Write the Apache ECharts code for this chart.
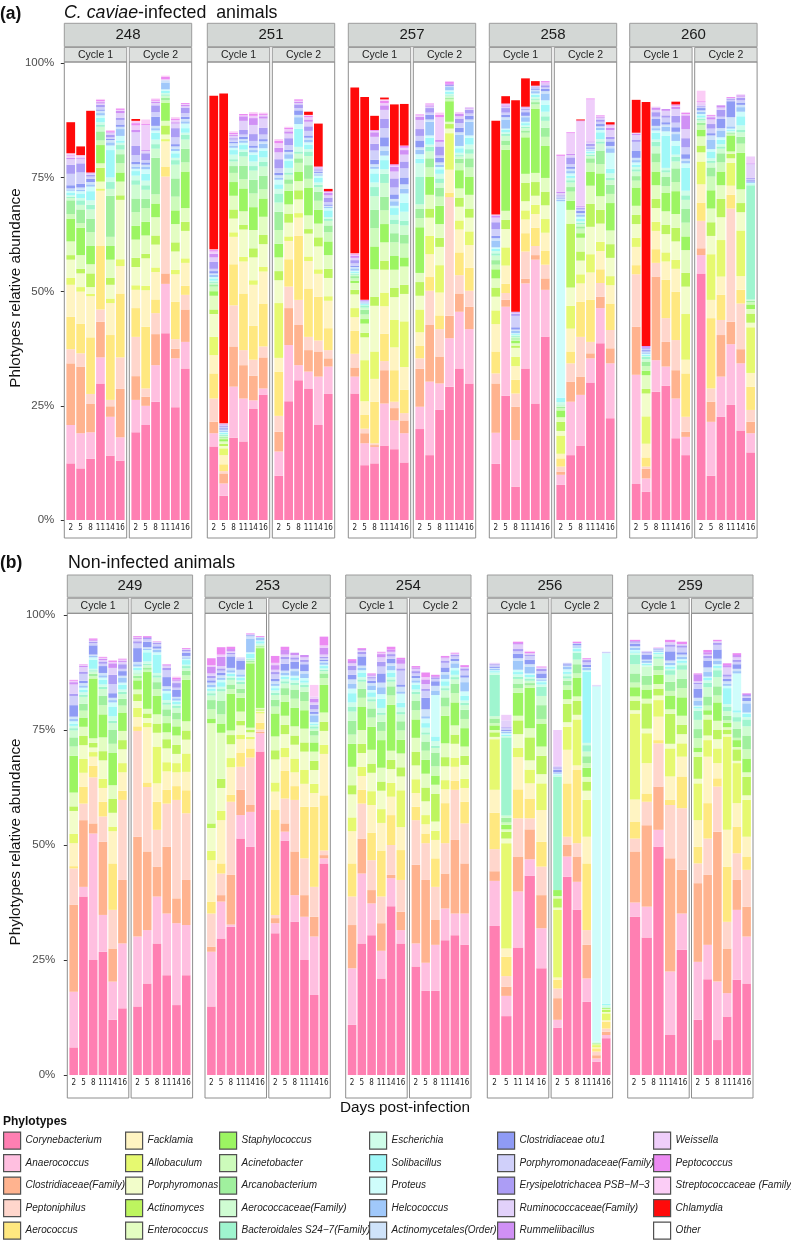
<!DOCTYPE html>
<html><head><meta charset="utf-8">
<script src="https://cdn.jsdelivr.net/npm/echarts@6/dist/echarts.min.js"></script>
<style>html,body{margin:0;padding:0;background:#fff}#c{width:791px;height:1241px}</style>
</head><body><div id="c"></div>
<script>
const FONT = '"Liberation Sans", Arial, sans-serif';
const TICKFONT = '"DejaVu Sans Condensed", "Liberation Sans Narrow", "Liberation Sans", sans-serif';
const phylotypes = ['Corynebacterium','Anaerococcus','Clostridiaceae(Family)','Peptoniphilus','Aerococcus',
 'Facklamia','Allobaculum','Porphyromonas','Actinomyces','Enterococcus',
 'Staphylococcus','Acinetobacter','Arcanobacterium','Aerococcaceae(Family)','Bacteroidales S24\u22127(Family)',
 'Escherichia','Solibacillus','Proteus','Helcococcus','Actinomycetales(Order)',
 'Clostridiaceae otu1','Porphyromonadaceae(Family)','Erysipelotrichacea PSB\u2212M\u22123','Ruminococcaceae(Family)','Rummeliibacillus',
 'Weissella','Peptococcus','Streptococcaceae (Family)','Chlamydia','Other'];
const colors = ['#ff7fb2','#ffbfe0','#ffb38f','#ffd6cc','#ffe880',
 '#fff4c2','#e6f970','#f2fdca','#bdf55f','#e3fdc2',
 '#9cf562','#cdfbbb','#a0f09e','#cffcd2','#9ff5cf',
 '#cffde9','#9ff8f8','#cffdfb','#a0c8fa','#cfe3fa',
 '#8f9bf5','#d0d0fa','#ac9df5','#e2d1fa','#d090f5',
 '#efcefa','#ec8af2','#fbcdf6','#ff0a0a','#ffffff'];
const days = ['2','5','8','11','14','16'];
const days256c1 = ['2','5','11','14','16'];
const bars259c1 = ['2','5','8','11','14'];
const infectedAnimals = ['248','251','257','258','260'];
const controlAnimals = ['249','253','254','256','259'];

// rows = days; columns = phylotypes (Corynebacterium ... Chlamydia), % relative abundance
const a248c1 = [
[12.4,8.4,13.5,3.1,7.1, 7,1.5,4,1,3, 5,1,3,0.5,0.3, 0.3,0.5,0.5,0.3,0.2, 0.7,2.5,2,1.2,0.3, 0.5,0.2,0.3,6.8],
[11.3,7.7,14.6,2.9,6.5, 7,1,3,1,3, 6,1,3,1,1, 0.5,1,0.5,0.3,0.5, 0.8,2.5,2,1,0.2, 0.3,0,0.3,1.9],
[13.4,5.8,6.2,2.2,12.4, 9,0.5,1.5,3,2, 4,3,3,2,1, 1,2,1,0.5,0.5, 0.7,0.5,0.4,0.3,0.2, 0,0,0,13.5],
[29.9,5.7,7.8,2.7,14, 12,0.5,1.5,3,1, 4,1,2,1,0.5, 0.5,1,0.5,0.5,0.5, 0.3,0.5,0.5,0.3,0.3, 0.2,0.3,0.2,0],
[14.1,8.5,2.3,1.4,14.2, 7,1,3,1.5,4, 3,2,9,1.5,1.5, 1,6,1,0.7,0.5, 0.3,0.3,0.6,0.3,0.2, 0.1,0.2,0.2,0],
[13,5.1,10.6,6.9,14, 6,1.5,13,1,3, 2,2,2,1,1, 0.5,0.5,1,1.5,0.5, 0.5,1,0.5,1,0.5, 0.2,0.3,0,0]];
const a248c2 = [
[19.2,7.1,5.2,8.6,6.3, 4,1,4,2,4, 3,3,3,3,1, 1,1,0.5,0.5,0.5, 0.5,1.5,2,3,0.5, 1,0.5,0.5,0.4],
[20.8,4.2,2,1.8,13.5, 8,1,6,1,4, 3,3,2,2,1, 1,1.5,1,0.5,0.5, 0.5,0.5,1.5,0.5,0.2, 5.5,0.2,1,0],
[25.9,8,6.8,4.6,3, 6,1,5,2,4, 3,2,8,2,1, 1,1.5,0.5,0.5,0.5, 2,1,1.5,0.5,0.3, 0.2,0.3,0.2,0],
[40.9,10.8,2.3,21.2,2.2, 5.5,0.5,1,2,1, 4,0.5,0.5,0.5,0.3, 0.3,0.5,0.3,1.5,0.5, 0,0,0,0,0, 0.2,0.5,0.3,0],
[24.7,10.7,2.1,2.1,8.2, 6,1,4,2,4, 3,3,4,3,1, 0.5,1,0.5,0.5,0.5, 0.5,1.5,2,1,0.3, 0.5,0.3,0.3,0],
[33.2,5.8,7.1,3.2,2, 5,1,6,2,3, 8,2,3,2,1, 0.5,1,1,0.5,0.5, 0.5,0.8,1.2,0.3,0.3, 0.2,0.2,0,0]];
const a251c1 = [
[16.1,2.9,2.5,5.1,5.5, 4,4,5,1,3, 1,1,0.5,0.3,0.2, 0.3,0.5,0.3,0.5,0.3, 0.5,0.5,1.5,1,0.8, 0.5,0.3,0.2,33.6],
[5.3,2.7,2.2,0.5,1.5, 2,1.5,0.5,0.5,0.5, 0.5,0.3,0.2,0.2,0.2, 0.2,0.3,0.2,0.3,0.2, 0.3,0.3,0.3,0.2,0.2, 0.1,0,0,72.2],
[18,11.2,8.8,9,9, 6,1,3,2,3, 3,2,1.5,1,0.5, 1,1,0.5,0.5,0.5, 0.3,0.5,0.3,0.5,0.2, 0.2,0.3,0.3,0],
[17.2,9.4,7.3,3.3,12.4, 7,1,6,1,3, 5,2,3,2,1, 0.5,1,0.5,0.5,0.3, 0.5,0.5,1,2,1, 0.2,0.3,0,0],
[24.3,1.9,5.4,3.5,7.4, 9,1,5,2,4, 5,3,3,2,1, 1,1.5,0.5,0.5,0.5, 0.5,1,1.5,2,1.5, 0.5,0.5,0.3,0],
[27.4,1.4,6.8,2.4,9.4, 7,1,5,2,4, 4,2,3,2,1, 1,1.5,0.5,1,0.5, 0.5,1,1.5,2,0.5, 0.3,0.3,0.2,0]];
const a251c2 = [
[9.7,5.3,4.3,3.5,9.7, 3,12,5,2,3, 3,3,4,2,2, 1,1,1,0.5,0.5, 0.5,1,2,1.5,1, 1,0.5,0.4,0],
[26,12.3,8.1,4.7,6, 4,1,3,2,2, 3,1.5,1,1,0.5, 1,1.5,0.5,1,0.5, 0.5,1,1.5,1,0.5, 0.5,0.3,0.2,0],
[30.6,3.3,8.8,5.5,14, 4,1,3,2,2, 2,2,1,1,0.5, 1,4,1,1.5,0.5, 1,0.5,0.8,0.3,0.3, 0.2,0.3,0,0],
[28.8,3.7,4.7,2.9,10.6, 6,1,5,1,3, 6,2,3,2,1, 0.5,1,0.5,0.5,0.5, 0.5,1,1,1,0.5, 0.5,0.3,0.2,0.7],
[20.8,10.6,5.5,2.4,9.6, 5,1,5,2,3, 3,2,2,1,0.5, 0.5,1,0.5,0.3,0.3, 0.2,0.3,0.3,0.2,0.2, 0.1,0.1,0,9.4],
[27.6,6,1.8,1.8,4.8, 6,1,4,2,3, 3,2,1.5,1,0.5, 0.3,1.5,0.5,0.3,0.2, 0.3,0.5,1,0.5,0.5, 0.2,0.2,0,0.5]];
const a257c1 = [
[27.7,3.7,2,3,5, 3,2,3,1,1.5, 0.5,0.5,0.5,0.3,0.2, 0.2,0.3,0.2,0.5,0.3, 0.3,0.5,0.7,0.5,0.5, 0.2,0.2,0.1,36.3],
[12,4.8,2.2,1,3, 3,9,5,1,2, 1,1,1,0.5,0.5, 0.1,0.2,0.1,0.2,0.1, 0.1,0.1,0.1,0,0.2, 0,0,0,44.4],
[12.4,3.6,0.4,0.4,9.1, 5,6,10,2,6, 5,4,4,3,2, 1,2,1,0.5,0.5, 1,2,1.5,1.5,1, 0.3,0.2,0,3.1],
[16.3,9.2,7.3,2,6, 6,3,5,2,4, 4,3,3,3,2, 1,2,1,1,1, 2,2,2,2,1, 0.5,0.5,0.3,0.4],
[15.5,6.3,2.7,1.4,6.9, 5,6,5,2,4, 3,3,2,2,1, 1,1.5,0.5,1,0.5, 1,1.5,2,1.5,1, 0.3,0.3,0,13.1],
[12.6,6.4,2.8,1.6,5.1, 5,10,6,2,4, 2,3,2,2,1, 2,2,2,1,1, 1.5,2,1.5,1.5,1, 0.5,0.5,0,9.1]];
const a257c2 = [
[19.9,4.9,8.3,2.3,2.7, 3,5,3,3,2, 10,2,2,1,6, 3,1,1,1,0.5, 1.5,1,1.5,2,0.7, 0.3,0.2,0,0],
[14.2,16.1,12.4,7.5,3, 5,4,4,2,3, 4,2,2,1.5,1, 0.5,1.5,0.5,3,0.5, 1,0.5,1,0.3,0.3, 0.2,0.2,0,0],
[24.1,5.8,5.9,6,3, 5,6,4,2,3, 4,2,2,1,1, 1,1,0.5,0.5,0.5, 1,0.5,2,1,0.4, 5,0.5,0.5,0],
[29.2,10.6,4.9,26,1, 5,8,1,1,0.5, 4.5,0.5,0.3,0.3,0.2, 0.3,0.5,0.3,0.7,0.2, 0,0,0.3,0,0.2, 0,0.5,0,0],
[33.2,12.4,4,4,5, 5,2,3,2,2, 4,1.5,1,0.5,0.3, 0.5,1,0.5,2.5,0.5, 1,1,1,0.5,0.5, 0.2,0.1,0,0],
[29.9,11.9,4.9,3.5,5, 5,3,3,2,3, 4,2,2,1,1, 1,1.5,0.5,3,0.5, 0.8,0.5,0.8,0.3,0.2, 0,0,0,0]];
const a258c1 = [
[12.3,6.8,10.8,2.2,4.8, 6,3,3,2,2, 2,1,1,1,0.5, 0.5,0.5,0.3,1.5,0.5, 0.5,1.5,1.5,1,0.5, 0.2,0,0,20.5],
[27.2,19.5,1.5,1.5,2, 4,4,4,2,2, 13.4,1,1,1,0.5, 0.3,0.5,0.3,2,0.5, 0.5,0.5,1,0.3,0.3, 0.2,0.2,0,1.6],
[7.3,10.2,7.3,2.9,3, 3,2,2,0.5,0.5, 0.5,0.3,0.3,0.3,0.2, 0.2,0.2,0.2,0.5,0.3, 0.5,2.5,0.4,0.3,0.2, 0,0,0,46.3],
[33.2,18.6,1,6,4, 3,2,2,4,2, 8,1,0.5,0.5,0.3, 0.3,0.5,0.3,1,0.3, 0.8,0.5,0.3,0.2,0.2, 0,0,0,6.2],
[25.5,31.5,1,2,4, 3,2,2,3,2, 14,1,0.5,0.5,0.3, 0.3,0.5,0.3,0.5,0.3, 0.3,0.2,0.2,0.1,0.1, 0,0,0,1],
[40.1,10.3,2.5,3,3, 4,3,3,3,3, 7,2,2,1.5,1, 1,1.5,1,1.5,0.5, 0.5,0.3,0.5,0.2,0.2, 0.2,0.3,0,0]];
const a258c2 = [
[7.7,2.2,0.7,1.1,1.8, 1,4,1,2,1, 1.5,0.5,0.3,0.3,0.2, 0.5,1,43,0.3,0.3, 0.2,0.3,0.2,0.5,0.3, 7.8,0.2,0.2,0],
[14.2,11.7,4.4,4,2.6, 5,5,4,14,3, 2,2,1,1,0.5, 0.5,0.5,0.5,0.5,0.5, 0.5,0.5,1.5,0.5,0.3, 4.5,0.2,0,0],
[16.3,11.1,4,8.7,7.7, 4,2,3,2,3, 1,1,0.5,0.5,0.3, 0.3,0.5,0.5,0.5,0.3, 0.5,0.3,0.3,0.3,0.2, 18.5,0.2,0,0.2],
[30.1,5.3,1.1,2.5,9.2, 6,4,6,5,4, 3,2,1,0.5,0.3, 0.3,0.3,0.3,0.2,0.2, 0.3,0.3,0.5,0.3,0.2, 9.2,0.2,0,0],
[38.7,7.7,2.5,3,3, 4,2,4,3,3, 5,2,3,1.5,0.5, 0.5,1.5,0.5,0.5,0.3, 0.5,0.5,0.5,0.3,0.2, 0.2,0.2,0,0],
[22.3,12,3.3,4,5.8, 4,2,4,3,3, 6,2,2,1,0.5, 1,1,3.5,1,0.5, 1,0.5,0.5,1.5,0.5, 0.5,0.2,0,0.5]];
const a260c1 = [
[7.9,23.9,10.5,11.5,2, 4,2,3,2,2, 4,1.5,1,1,0.5, 0.5,0.5,0.5,0.5,0.5, 1.5,2,0.5,1,0.3, 0.2,0,0,7.2],
[6.2,2.9,2.1,0.5,2, 3,6,5,1,3, 1,1,1,0.5,0.5, 0.2,0.3,0.2,0.3,0.2, 0.3,0.3,0.2,0,0.4, 0,0,0,53.4],
[28.1,6.9,18.3,3,3, 4,2,3,2,3, 3,2,2,1.5,1, 0.5,1.5,0.5,0.5,0.5, 1.5,0.5,1,0.5,0.5, 0.2,0,0,0],
[29.4,4.2,5.4,5.2,8.4, 4,2,4,2,3, 4,1.5,2,1,0.5, 0.5,7,1,1,0.5, 0.5,1,0.5,1,0.4, 0,0,0,0],
[17.9,8.7,6.2,6.6,10.6, 5,2,4,3,3, 5,2,3,1.5,1, 0.5,2,1,1.5,0.5, 1,1,1.5,1.5,0.5, 0.2,0.3,0,0.6],
[14.2,4,1.1,3.3,9.5, 3,10,6,3,5, 3,3,3,2,1, 1,5,1,0.5,0.5, 1,1.5,2,2,3, 0.3,0.3,0,0]];
const a260c2 = [
[54,4,1.5,6,4, 4,5,2,1.5,2, 1.5,1,0.5,0.5,0.3, 0.3,0.5,0.3,0.5,0.3, 0.5,0.3,0.2,0.2,0.1, 0.5,0.2,2.3,0],
[9.7,11.8,4.4,2.9,15.4, 4,10,4,3,3, 4,3,2,1,0.5, 0.5,1.5,0.5,2,1, 0.5,1,1,1,0.5, 0.3,0.2,0,0],
[22.6,8.8,9.1,3.3,5.5, 4,8,5,4,3, 3,2,2,1,0.5, 0.5,1,0.5,1.5,0.5, 2,0.5,1.5,0.5,0.5, 0,0,0,0],
[25.2,13.3,4.9,24.8,3, 2,5,1,1,0.5, 3.5,0.3,0.2,0.2,0.1, 0.2,0.3,0.2,0.5,2, 3.5,0.3,0.3,0,0, 0.1,0.2,0,0],
[19.6,14.7,3.1,10,3, 3,10,4,2,3, 8,2,1.5,1,0.5, 1,2,1,1,0.5, 0.5,0.5,0.5,0.3,0.3, 0.2,0,0,0],
[14.8,4.2,2.5,2.6,5.1, 3,10,1,2,1, 1,0.5,0.3,0.3,25, 0.2,0.2,0.1,0.2,0.1, 0.3,0.3,0.2,3,0.2, 1.5,0,0,0]];

const b249c1 = [
[6,12.1,18.9,7.9,0.5, 5,2,5,1,3, 8,2,2,1.5,0.5, 0.5,0.5,0.5,0.5,0.5, 2.5,2,0.5,2,0.5, 0.3,0.2,0,0],
[38.8,2.1,14.5,3.6,3.7, 3,3,3,2,2, 2,1.5,1.5,1.5,0.5, 0.5,0.5,0.5,0.5,0.5, 0.5,1.5,0.5,1,0.3, 0.2,0.1,0,0],
[25,27.5,2.2,10,2.5, 2,1,1,1,1, 13,0.5,0.5,0.5,0.3, 0.3,2,0.5,0.3,0.3, 2,0.5,0.3,0.2,0.2, 0,0.3,0,0],
[26.8,8,15.9,5.5,3.2, 3,2,4,2,3, 5,2,2,1.5,0.5, 0.5,1,0.5,0.5,0.5, 1.5,0.5,0.5,0.3,0.3, 0.2,0.2,0,0],
[12,8.3,7.2,8.4,10.1, 7,1,3,3,3, 7,2,3,1.5,0.5, 1,2,1,0.5,0.5, 1,2,2,1.5,1, 0.3,0.3,0,0],
[14.5,14.1,13.8,17.4,2, 4,2,3,2,2, 4,1.5,1.5,1,0.5, 0.5,1,0.5,1,0.5, 1,0.5,1,0.5,0.3, 0.2,0.2,0,0]];
const b249c2 = [
[14.9,15.2,21.7,23,1, 2,2,1.5,1.5,1, 2,0.5,0.5,0.5,0.2, 0.5,0.5,0.3,0.5,0.5, 3,1,0.5,0.5,0.3, 0.1,0.2,0,0],
[19.9,11.6,17.1,14,1, 12,1,1,1,1, 8,0.5,0.5,0.5,0.3, 0.5,2,0.5,0.3,0.3, 1.2,0.5,0.3,0,0.2, 0,0.2,0,0],
[28.6,10.2,6.5,8,6.1, 4,8,3,2,2, 4,1.5,1.5,1,0.5, 0.5,4,0.5,0.5,0.3, 0.5,0.5,0.3,0.2,0, 0,0.1,0,0],
[21.7,13.4,14.5,9.4,3, 4,2,3,2,1.5, 2,1.5,1.5,1,0.5, 0.5,1.5,0.5,0.5,0.5, 2,1.5,0.5,0.5,0.2, 0,0.1,0,0],
[15.2,17.8,5.4,21.4,3, 3,2,2,2,2, 2,1.5,1.5,1,0.5, 0.3,0.5,0.3,0.5,0.3, 1.5,0.5,1,0.5,0.3, 0,0.3,0.3,0],
[21.7,10.9,9.8,14.5,5, 4,4,3,2,2, 9,1,1,0.5,0.5, 0.3,1,0.3,0.3,0.3, 0.7,0.3,0.3,0.2,0, 0,0.2,0,0]];
const b253c1 = [
[14.9,11.9,1.1,7.2,2.6, 9,2,5,1,21.8, 1,2,2,1,0.5, 0.5,0.5,0.3,0.5,0.5, 0.5,0.5,0.5,0.5,1.5, 0.3,1.5,0,0],
[29.7,8,1.4,4.7,2.2, 9.4,2,5,2,10, 2,2,3,2,0.5, 0.5,1,0.5,0.5,0.5, 0.5,0.5,0.5,0.5,2, 0.5,1.6,0,0],
[32.2,0.5,10.8,15.9,1.5, 6,2,3,2,1, 8,1,1,1,0.5, 0.3,0.5,0.3,0.5,0.5, 2.5,0.5,0.3,0.3,0.5, 0,0.5,0,0],
[51.4,5.1,5.5,5,3, 3,1,2,1,2, 3,1,1,1,0.5, 0.3,0.5,0.3,0.5,1, 2,0.5,0,0.2,0, 0,0,0,0],
[49.6,7.6,1.5,10.3,2, 2,0.5,1,0.5,0.5, 14,0.3,0.2,0.2,0.2, 0.2,1,0.3,3,0.5, 0.2,0.2,0,0,0, 0,0.2,0,0],
[70.3,4,0.3,0.5,1.5, 2,0.3,0.3,0.3,0.3, 13,0.3,0.2,0.2,0.1, 0.2,0.5,0.2,0.5,0.2, 0,0,0,0,0, 0,0.2,0,0]];
const b253c2 = [
[30.8,2.2,1.1,0.7,22.8, 4,2,5,2,3, 5,1.5,1.5,1,0.5, 0.5,0.5,0.5,0.5,0.5, 0.5,1,0.5,0.5,1, 0.5,1.5,0,0],
[50.9,2,1.8,5.4,6, 3,2,3,2,2, 3,1.5,1.5,1,0.5, 0.5,0.5,0.3,0.5,0.5, 1.5,1,0.5,0.5,1, 0,0.7,0,0],
[33.3,5.8,9.5,11.2,3, 3,3,3,2,2, 4,2,2,1,0.5, 0.5,0.5,0.5,1,0.5, 1.5,0.5,0.5,0.5,0.5, 0,0,0,0],
[25,9.4,4.7,8,11.2, 5,3,4,2,3, 4,2,2,1,0.5, 0.5,0.5,0.5,1,0.5, 1.5,0.5,0.5,0.5,0.5, 0,0,0,0],
[17.4,12.7,4.3,6.5,17.4, 3,2,3,2,2, 2,1.5,1,0.5,0.5, 0.3,0.3,0.3,1.5,0.3, 0.5,0.5,1,0.5,0.8, 0.5,0,2.5,0],
[46,1.1,0.7,1,12, 9,2,3,2,2, 6,1.5,1,0.5,0.3, 0.3,0.5,0.3,0.5,0.3, 0.3,0.3,0.3,0.5,1.5, 0.5,1.9,0,0]];
const b254c1 = [
[10.9,12.3,9.4,6.2,7.2, 7,3,5,2,4, 5,2,3,2,1, 1,2,1,1,1, 1,1,1,0.5,0.5, 0,0.4,0,0],
[28.6,15.2,7.6,7.6,3, 3,2,3,2,3, 5,2,2,1.5,0.5, 0.5,1,0.5,0.5,0.5, 2,0.5,0.5,0.3,0.3, 0,0.2,0,0],
[30.4,6.9,2.9,6.5,6, 6,3,4,2,3, 5,2,2,1.5,0.5, 0.5,1,0.5,1,0.5, 0.5,0.5,0.3,0.3,0.3, 0,0.2,0,0],
[21,6,6,5.8,10, 6,3,4,2,3, 6,2,2,1.5,0.5, 1,2,1,1.5,1, 2,1.5,1,1,0.7, 0.3,0.2,0,0],
[36.7,6.1,0.7,6.5,6.5, 4,3,3,2,2, 10,2,2,1,0.5, 0.5,1,0.5,1,0.5, 1,0.5,0.5,0.5,0.5, 0,0.6,0,0],
[28.6,2.9,4,6.9,6.5, 5,8,3,2,3, 3,2,2,1.5,0.5, 1,1,2,0.5,1, 0.5,3,0.5,1,1, 0,0.3,0,0]];
const b254c2 = [
[23.6,5,17.1,9.7,2.9, 3,3,3,3,3, 4,2,2,1.5,0.5, 0.5,1,0.5,0.5,0.5, 0.5,0.5,0.5,0.5,0.3, 0,0.3,0,0],
[18.3,6.1,18,8,2.1, 2,2,3,3,3, 3,2,2,1.5,0.5, 1,1,1,0.5,1.5, 2.5,1.5,0.5,1,1, 0.5,1,0,0],
[18.3,10,5.4,7.2,6.2, 4,2,2,6,2, 2,2,3,1,0.5, 1,1,9,1,1, 1,0.5,0.3,0,0.3, 0,0.3,0,0],
[29.3,6.9,7.6,6.6,8.7, 3,2,3,2,3, 6,2,2,1.5,0.5, 0.5,1,0.5,1,0.5, 1,1,0.5,0.5,0.2, 0,0.3,0,0],
[30.4,4.7,16,10.9,2, 3,2,3,2,2, 5,2,2,1,0.5, 0.5,1,0.5,1,0.5, 0.5,0.5,0.3,0.3,0, 0,0.2,0,0],
[28.3,6.8,10.9,8.7,4.7, 3,2,3,2,2, 4,2,2,1,0.5, 0.5,1,1,2,1, 0.5,1,0.5,0.3,0, 0,0.4,0,0]];
const b256c1 = [
[32.4,9.8,2.1,4.8,7.9, 5,11,0.5,1,0.5, 1,0.5,1,0.5,9, 0.5,0.3,0.2,0.3,0.2, 0.3,0.3,0.2,0.2,0, 0.1,0,0,0],
[12.8,4.4,2,2.3,4.2, 1.8,22.9,1,1.5,0.5, 1,0.5,1,0.5,17, 0.3,0.3,0.3,0.3,0.2, 0.3,0.3,0.2,1.5,0, 1.2,0,0,0],
[27.7,12.2,7.6,8.3,6.3, 7,2,3,3,1, 5,1,1,1,0.5, 0.5,0.5,0.5,2,0.5, 1,0.5,0.5,1,0.3, 0,0.3,0,0],
[43.3,3.6,6.5,2.4,4.3, 3.3,3,2,5,2, 8.8,0.5,0.5,0.5,0.5, 0.3,0.5,0.3,1.5,0.5, 1,0.8,0.3,0.3,0, 0,0.3,0.2,0],
[23.2,8.7,7.2,6.2,5.4, 6.9,5.8,2,4,2, 5,1,3,2,2, 0.5,0.5,0.3,0.3,0.3, 1,0.5,0.5,0.3,0, 0,0.2,0,0]];
const b256c2 = [
[10.3,1.7,4.7,2.1,1.9, 0.5,14.7,0.5,2,0.5, 1.3,0,0,0,24.7, 0.2,0.2,0.2,0.2,0.1, 0.5,0.3,0.3,0.3,0, 7.8,0,0,0],
[43.1,4.4,2.5,1.8,11.6, 7.3,5,1,4,1, 2,1,1,0.5,0.5, 0.5,0.5,0.5,0.5,0.3, 0.3,0.3,0,0,0, 0,0,0,0],
[35.9,6.1,5.5,2.9,15.9, 1,10,1,3,1, 4,1,2,1,1.5, 0.3,0.5,0.3,0.3,0.2, 0.3,0.2,0,0,0, 0,0.3,0,0],
[15.9,5.1,7.3,3.2,14.5, 5.8,8,2,2,1, 2,1,1.5,1,1.4, 0.5,15.5,0.3,0.5,0.2, 0.5,0.5,0.5,0.2,0, 0,0.2,0,0],
[2.9,0.7,0.7,0.8,0.7, 0.2,0.5,0.1,0.1,0.1, 0.1,0,0,0,0.1, 0.3,0,77.2,0,0, 0,0.2,0,0,0, 0.1,0,0,0],
[8,0.7,0.7,0.7,1.5, 0.3,1.5,0.3,0.5,0.2, 0.2,0,0,0,0.1, 0.5,0.3,76.2,0,0, 0,0.3,0,0,0, 0,0,0,0]];
const b259c1 = [
[34.4,3.1,11.1,2.8,3.7, 4.8,18.7,0.7,2,1, 2,1,2,2,2, 0.5,0.3,0.3,0.5,0.3, 0.5,0.3,0.3,0,0, 0,0.3,0,0],
[29.9,6.7,17.7,5.1,1.8, 6.6,6.5,1,5.5,1, 2,1,2,2,0, 0.3,0.3,0.2,0.5,0.2, 1,0.5,0.2,0.2,0, 0,0,0,0],
[49.6,3.7,9.4,9.4,0.7, 5.1,3.6,1,1.5,1, 2,1,1,1.5,0.5, 0.5,0.3,0.2,0.3,0.2, 0.2,0.1,0,0,0, 0,0.1,0,0],
[8.7,13.8,24.6,11.6,1.1, 5.1,6.1,1,6.5,1, 3,1,2,1.5,1, 0.3,0.5,0.3,0.5,0.5, 2,1,0.5,0.5,0, 0,0.5,0,0],
[27.2,7.9,9.5,13.4,6.9, 4.3,2.9,2,2,2, 4,2,2,2,1, 0.5,0.5,0.3,0.5,0.5, 0.5,1,0.5,0.3,0, 0,0.5,0,0]];
const b259c2 = [
[12,12.6,17.1,4.3,3.6, 5.8,8,1,4.8,1, 1,2,2,2,2, 0.5,0.3,0.3,1,0.7, 2,1,0.3,0.3,1.5, 0,0.2,0,0],
[20.8,7.5,15.2,7.9,7.7, 10.1,3.6,1,3.5,1, 1,1,2,2,1, 0.5,0.5,0.3,1,1, 1.5,0.5,0.5,0.3,0.5, 0,0.5,0,0],
[7.6,12.7,32.6,9.8,1.8, 3.3,3.2,2,2,2, 4,1.5,2,2,1.5, 0.5,0.5,0.3,0.7,0.5, 2,1,0.5,0.3,0, 0,0.3,0,0],
[12.7,5.1,9.7,5.8,12, 8,20.3,0.5,1,0.5, 1,0.5,1,1,1, 0.5,3.5,0.5,0.5,0.5, 0.5,0.5,0.5,1.5,0.5, 0,0.4,0,0],
[20.7,15.2,6.5,5.8,5.8, 5.1,8.7,0.5,2.5,0.5, 1.5,0.5,2,1.5,1, 1,0.5,8,0.5,0.5, 1,0.5,0.5,0.5,0.5, 0,0.4,0,0],
[19.9,10.2,6.5,8,2.9, 4.3,8,1,4,1, 3,2,3,2,1.5, 0.5,0.7,0.3,2,0.5, 0.7,0.3,0.3,0,0.3, 0,0.1,0,0]];

// ---------- layout ----------
const panels = [
 {animals: infectedAnimals, data: [[a248c1,a248c2],[a251c1,a251c2],[a257c1,a257c2],[a258c1,a258c2],[a260c1,a260c2]],
  lefts:[64.3,207.3,348.3,489.3,629.7], cw:62.4, c2off:65, hdrTop:23.3, hdrBot:46.7, stripTop:47.5, stripBot:62,
  plotTop:63.3, plotBot:520, boxBot:538},
 {animals: controlAnimals, data: [[b249c1,b249c2],[b253c1,b253c2],[b254c1,b254c2],[b256c1,b256c2],[b259c1,b259c2]],
  lefts:[67.3,205,345.7,487.3,627.7], cw:61.5, c2off:63.8, hdrTop:575, hdrBot:597.3, stripTop:598.3, stripBot:613.3,
  plotTop:615, plotBot:1075, boxBot:1098}
];
function catsFor(pi, ai, ci){
  if (pi===1 && ai===3 && ci===0) return days256c1;
  if (pi===1 && ai===4 && ci===0) return bars259c1;
  return days;
}
const tickLabel = {interval:0, fontSize:8, fontFamily:TICKFONT, color:'#222', margin:4};
const option = {animation:false, backgroundColor:'#ffffff', grid:[], xAxis:[], yAxis:[], series:[], legend:[], graphic:[]};
const G = option.graphic;
const extraAxes = [];
panels.forEach((P, pi) => {
  P.animals.forEach((an, ai) => {
    const A = P.lefts[ai];
    const aw = P.c2off + P.cw;
    G.push({type:'rect', shape:{x:A, y:P.hdrTop, width:aw, height:P.hdrBot-P.hdrTop}, style:{fill:'#d3d7d5', stroke:'#9c9c9c', lineWidth:1}, z:20});
    G.push({type:'text', style:{x:A+aw/2, y:(P.hdrTop+P.hdrBot)/2, text:an, textAlign:'center', textVerticalAlign:'middle', align:'center', verticalAlign:'middle', fontSize:15, fontFamily:FONT, fill:'#1a1a1a'}, z:21});
    [0,1].forEach(ci => {
      const cx = A + ci*P.c2off;
      const g = option.grid.length;
      G.push({type:'rect', shape:{x:cx, y:P.stripTop, width:P.cw, height:P.stripBot-P.stripTop}, style:{fill:'#dde0de', stroke:'#9c9c9c', lineWidth:1}, z:20});
      G.push({type:'text', style:{x:cx+P.cw/2, y:(P.stripTop+P.stripBot)/2, text:'Cycle '+(ci+1), textAlign:'center', textVerticalAlign:'middle', align:'center', verticalAlign:'middle', fontSize:10.5, fontFamily:FONT, fill:'#222'}, z:21});
      G.push({type:'rect', shape:{x:cx, y:P.stripBot, width:P.cw, height:P.boxBot-P.stripBot}, style:{fill:'transparent', stroke:'#8e8e8e', lineWidth:1}, z:20});
      option.grid.push({left:cx+1.5, top:P.plotTop, width:P.cw-3, height:P.plotBot-P.plotTop, containLabel:false});
      const cats = catsFor(pi, ai, ci);
      const special = (pi===1 && ai===4 && ci===0);
      option.xAxis.push({type:'category', gridIndex:g, data:cats, axisLine:{show:false}, axisTick:{show:false}, splitLine:{show:false},
        axisLabel: Object.assign({}, tickLabel, {show:!special})});
      if (special) extraAxes.push({type:'category', gridIndex:g, position:'bottom', data:days, axisLine:{show:false}, axisTick:{show:false},
        axisLabel: Object.assign({}, tickLabel)});
      const first = (ai===0 && ci===0);
      option.yAxis.push({type:'value', gridIndex:g, min:0, max:100, interval:25, show:first, offset:1.5,
        axisLine:{show:false}, splitLine:{show:false},
        axisTick:{show:true, length:3.5, lineStyle:{color:'#333'}},
        axisLabel:{formatter:'{value}%', fontSize:11.5, fontFamily:FONT, color:'#4d4d4d', margin: pi===0 ? 10 : 12}});
      const rows = P.data[ai][ci];
      for (let p = 0; p < 29; p++) {
        option.series.push({type:'bar', name:phylotypes[p], xAxisIndex:g, yAxisIndex:g, stack:'s'+g,
          data: rows.map(r => r[p]), itemStyle:{color:colors[p]}, barCategoryGap:'12%', silent:true});
      }
    });
  });
});
extraAxes.forEach(ax => option.xAxis.push(ax));
option.series.push({type:'bar', name:'Other', xAxisIndex:0, yAxisIndex:0, stack:'s0', data:[], itemStyle:{color:colors[29]}, silent:true});

// legend columns
const legendX = [3,125,219,369,497,653];
for (let c = 0; c < 6; c++) {
  option.legend.push({type:'plain', orient:'vertical', left:legendX[c], top:1131.5, height:130, itemWidth:17, itemHeight:17, itemGap:4.3, padding:0,
    icon:'rect', selectedMode:false, data: phylotypes.slice(c*5, c*5+5),
    itemStyle:{borderColor:'#505050', borderWidth:1.2},
    textStyle:{fontStyle:'italic', fontSize:10, fontFamily:FONT, color:'#222'}});
}
// titles and axis titles
G.push({type:'text', style:{x:0, y:14, text:'(a)', textVerticalAlign:'middle', verticalAlign:'middle', fontSize:17.5, fontWeight:'bold', fontFamily:FONT, fill:'#111'}});
G.push({type:'text', style:{x:64, y:13, text:'{i|C. caviae}-infected  animals', textVerticalAlign:'middle', verticalAlign:'middle', fontSize:17.8, fontFamily:FONT, fill:'#111',
  rich:{i:{fontStyle:'italic', fontSize:17.8, fontFamily:FONT, fill:'#111', color:'#111'}}}});
G.push({type:'text', style:{x:0, y:563, text:'(b)', textVerticalAlign:'middle', verticalAlign:'middle', fontSize:17.5, fontWeight:'bold', fontFamily:FONT, fill:'#111'}});
G.push({type:'text', style:{x:68, y:563, text:'Non-infected animals', textVerticalAlign:'middle', verticalAlign:'middle', fontSize:17.8, fontFamily:FONT, fill:'#111'}});
G.push({type:'text', x:16, y:288, rotation:Math.PI/2, style:{x:0, y:0, text:'Phlotypes relative abundance', textAlign:'center', textVerticalAlign:'middle', align:'center', verticalAlign:'middle', fontSize:15.2, fontFamily:FONT, fill:'#111'}});
G.push({type:'text', x:16, y:842, rotation:Math.PI/2, style:{x:0, y:0, text:'Phylotypes relative abundance', textAlign:'center', textVerticalAlign:'middle', align:'center', verticalAlign:'middle', fontSize:15.2, fontFamily:FONT, fill:'#111'}});
G.push({type:'text', style:{x:405, y:1108, text:'Days post-infection', textAlign:'center', textVerticalAlign:'middle', align:'center', verticalAlign:'middle', fontSize:15.3, fontFamily:FONT, fill:'#111'}});
G.push({type:'text', style:{x:3, y:1122, text:'Phylotypes', textVerticalAlign:'middle', verticalAlign:'middle', fontSize:12, fontWeight:'bold', fontFamily:FONT, fill:'#111'}});

const chart = echarts.init(document.getElementById('c'), null, {renderer:'canvas'});
chart.setOption(option);
</script></body></html>
